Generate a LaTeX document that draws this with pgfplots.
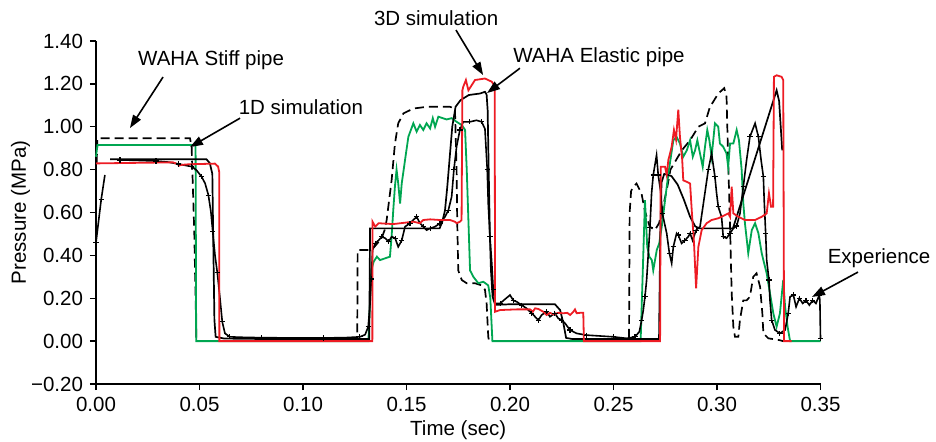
\documentclass[border=0pt]{standalone}
\usepackage{pgfplots}
\pgfplotsset{compat=1.18}
\usepackage{fontspec}
\setmainfont{Liberation Sans}
\usetikzlibrary{arrows.meta}
\definecolor{ggreen}{RGB}{0,166,81}
\definecolor{rred}{RGB}{237,28,36}
\begin{document}
\fontsize{20.5bp}{24bp}\selectfont
\begin{tikzpicture}
\useasboundingbox (-96bp,-58bp) rectangle (840bp,384bp);
\begin{axis}[
  at={(0,0)}, anchor=south west,
  scale only axis, width=724.5bp, height=343bp,
  xmin=0, xmax=0.35, ymin=-0.2, ymax=1.4,
  axis lines*=left,
  axis line style={line width=1.8bp},
  xtick={0,0.05,0.1,0.15,0.2,0.25,0.3,0.35},
  xticklabels={0.00,0.05,0.10,0.15,0.20,0.25,0.30,0.35},
  ytick={-0.2,0,0.2,0.4,0.6,0.8,1.0,1.2,1.4},
  yticklabels={−0.20,0.00,0.20,0.40,0.60,0.80,1.00,1.20,1.40},
  tick align=outside, major tick length=6bp,
  tick style={line width=1.4bp, black},
  tick label style={font=\fontsize{20.5bp}{24bp}\selectfont},
  label style={font=\fontsize{20.5bp}{24bp}\selectfont},
  xlabel={Time (sec)}, ylabel={Pressure (MPa)},
  xlabel style={at={(axis description cs:0.5,-0.134)}, anchor=center},
  ylabel style={at={(axis description cs:-0.104,0.5)}, anchor=center, rotate=0},
  clip=false,
  unbounded coords=jump,
]
% WAHA Stiff pipe (dashed)
\addplot[black, line width=1.7bp, dash pattern=on 9bp off 5bp] coordinates {
(0.0003,0.83)(0.0007,0.946)(0.0454,0.946)(0.0462,0.907)(0.0475,0.5)(0.0485,0.0)(0.1262,0.0)
(0.1264,0.425)(0.1330,0.425)(0.1345,0.44)(0.1380,0.48)(0.1395,0.52)(0.1404,0.564)(0.1428,0.75)
(0.1444,0.92)(0.1460,1.016)(0.1485,1.062)(0.1533,1.085)(0.1598,1.093)(0.1710,1.093)(0.1734,1.085)
(0.1742,0.8)(0.1745,0.56)(0.1750,0.33)(0.1767,0.285)(0.1791,0.27)(0.1831,0.27)(0.1863,0.26)
(0.1879,0.24)(0.1887,0.176)(0.1895,0.02)(0.1899,0.0)(0.2575,0.0)(0.2578,0.6)(0.2585,0.70)
(0.2595,0.72)(0.2611,0.735)(0.2635,0.69)(0.2651,0.61)(0.2675,0.534)(0.2700,0.518)(0.2720,0.55)
(0.2740,0.63)(0.2760,0.72)(0.2775,0.8)(0.2830,0.89)(0.2870,0.937)(0.2910,1.0)(0.2942,1.016)
(0.2966,1.093)(0.2982,1.117)(0.3006,1.155)(0.3035,1.18)(0.3046,1.14)(0.3054,0.845)(0.3063,0.534)
(0.3071,0.223)(0.3079,0.067)(0.3087,0.02)(0.3103,0.02)(0.3111,0.1)(0.3127,0.19)(0.3143,0.19)
(0.3159,0.207)(0.3175,0.3)(0.3191,0.316)(0.3208,0.254)(0.3219,0.13)(0.3224,0.036)(0.3248,0.013)
(0.3300,0.005)(0.3319,0.0)
};
% 1D simulation (green)
\addplot[ggreen, line width=1.8bp] coordinates {
(0,0.86)(0.0007,0.915)(0.0481,0.915)(0.0484,0.0)(0.1316,0.0)(0.1330,0.33)(0.1341,0.37)
(0.1357,0.394)(0.1372,0.378)(0.1396,0.386)(0.1420,0.394)(0.1428,0.487)(0.1436,0.61)(0.1444,0.72)
(0.1452,0.80)(0.1460,0.736)(0.1469,0.642)(0.1477,0.736)(0.1493,0.845)(0.1509,0.953)(0.1533,1.016)
(0.1549,0.977)(0.1565,1.008)(0.1581,0.985)(0.1597,1.016)(0.1614,0.992)(0.1627,1.04)(0.1638,1.0)
(0.1654,1.047)(0.1694,1.034)(0.1718,1.04)(0.1742,1.023)(0.1767,1.008)(0.1783,0.985)(0.1791,0.8)
(0.1799,0.565)(0.1807,0.33)(0.1823,0.3)(0.1847,0.27)(0.1871,0.277)(0.1895,0.26)(0.1905,0.2)
(0.1915,0.0)(0.2631,0.0)(0.2652,0.657)(0.2663,0.44)(0.2673,0.394)(0.2685,0.378)(0.2692,0.33)
(0.2709,0.425)(0.2721,0.456)(0.2733,0.534)(0.2749,0.657)(0.2765,0.78)(0.2789,0.937)(0.2805,0.953)
(0.2821,0.922)(0.2837,0.86)(0.2854,0.89)(0.2870,0.937)(0.2883,0.86)(0.2894,0.89)(0.2905,0.937)
(0.2918,0.875)(0.2931,0.813)(0.2942,0.907)(0.2953,0.985)(0.2963,0.937)(0.2974,0.86)(0.2990,1.016)
(0.3006,1.0)(0.3014,0.922)(0.3030,0.907)(0.3046,0.875)(0.3054,0.813)(0.3063,0.922)(0.3079,0.922)
(0.3095,0.985)(0.3106,0.937)(0.3119,0.8)(0.3127,0.643)(0.3135,0.55)(0.3151,0.41)(0.3168,0.518)
(0.3184,0.55)(0.3200,0.503)(0.3216,0.41)(0.3224,0.378)(0.3240,0.316)(0.3256,0.223)(0.3272,0.13)
(0.3288,0.067)(0.3304,0.13)(0.3320,0.285)(0.3329,0.16)(0.3341,0.067)(0.3353,0.0)(0.3500,0.0)
};
% WAHA Elastic pipe (black solid)
\addplot[black, line width=1.7bp] coordinates {
(0.0068,0.848)(0.0300,0.848)(0.0534,0.848)(0.0550,0.83)(0.0562,0.78)(0.0566,0.5)(0.0572,0.1)
(0.0578,0.02)(0.0620,0.012)(0.0800,0.01)(0.1320,0.01)(0.1324,0.526)(0.1660,0.526)(0.1673,0.557)
(0.1686,0.61)(0.1697,0.72)(0.1709,0.86)(0.1721,1.0)(0.1737,1.093)(0.1761,1.124)(0.1801,1.148)
(0.1855,1.155)(0.1879,1.163)(0.1887,1.15)(0.1892,1.078)(0.1897,0.8)(0.1903,0.487)(0.1908,0.33)
(0.1916,0.207)(0.1928,0.17)(0.1952,0.17)(0.2000,0.172)(0.2217,0.172)(0.2242,0.145)(0.2258,0.083)
(0.2271,0.015)(0.2300,0.01)(0.2720,0.01)(0.2726,0.5)(0.2732,0.74)(0.2745,0.78)(0.2780,0.77)
(0.2810,0.73)(0.2840,0.66)(0.2870,0.58)(0.2895,0.535)(0.2915,0.526)(0.3077,0.526)(0.3288,1.17)
(0.3300,1.12)(0.3315,0.89)
};
% Experience (black with marks)
\addplot[black, line width=1.6bp, mark=+, mark size=2.6bp, mark repeat=2,
  mark options={solid, line width=1.1bp}] coordinates {
(0,0.46)(0.0015,0.58)(0.0025,0.66)(0.0043,0.775)(0.008,nan)
(0.0116,0.845)(0.020,0.843)(0.029,0.84)(0.035,0.835)(0.040,0.826)(0.043,0.82)(0.0463,0.814)
(0.0485,0.798)(0.051,0.767)(0.0527,0.736)(0.0543,0.681)(0.0555,0.604)(0.0564,0.51)(0.0575,0.40)
(0.0586,0.32)(0.0599,0.20)(0.061,0.09)(0.0623,0.036)(0.0647,0.02)(0.070,0.018)(0.080,0.016)
(0.095,0.015)(0.110,0.015)(0.120,0.016)(0.1275,0.02)(0.1300,0.03)(0.1315,0.067)(0.1324,0.176)
(0.1330,0.29)(0.1336,0.425)(0.1349,0.456)(0.1365,0.47)(0.1381,0.487)(0.1397,0.48)(0.1413,0.464)
(0.1429,0.487)(0.1445,0.48)(0.1460,0.44)(0.1477,0.47)(0.1493,0.534)(0.1517,0.55)(0.1533,0.565)
(0.1549,0.58)(0.1565,0.55)(0.1581,0.534)(0.1597,0.518)(0.1614,0.526)(0.1638,0.534)(0.1662,0.55)
(0.1686,0.58)(0.1702,0.61)(0.1718,0.673)(0.1729,0.80)(0.1742,0.907)(0.1758,0.985)(0.1774,1.023)
(0.1806,1.023)(0.1838,1.03)(0.1863,1.023)(0.1879,0.99)(0.1890,0.8)(0.1895,0.64)(0.1903,0.487)
(0.1912,0.363)(0.1919,0.24)(0.1928,0.176)(0.1952,0.176)(0.2000,0.215)(0.2016,0.19)(0.2032,0.184)
(0.2056,0.168)(0.2080,0.153)(0.2105,0.13)(0.2121,0.114)(0.2137,0.098)(0.2153,0.122)(0.2177,0.137)
(0.2193,0.114)(0.2217,0.13)(0.2233,0.106)(0.2250,0.098)(0.2266,0.083)(0.2290,0.052)(0.2322,0.036)
(0.2370,0.028)(0.2435,0.024)(0.2499,0.02)(0.2564,0.013)(0.2604,0.02)(0.2625,0.044)(0.2636,0.098)
(0.2644,0.145)(0.2652,0.207)(0.2660,0.285)(0.2676,0.53)(0.2684,0.69)(0.2692,0.775)(0.2708,0.868)
(0.2716,0.775)(0.2728,0.697)(0.2736,0.596)(0.2757,0.503)(0.2770,0.41)(0.2781,0.363)(0.2789,0.44)
(0.2805,0.503)(0.2813,0.495)(0.2829,0.456)(0.2845,0.47)(0.2861,0.487)(0.2870,0.503)(0.2882,0.47)
(0.2899,0.518)(0.2918,0.534)(0.2958,0.8)(0.2974,0.875)(0.2990,0.767)(0.2998,0.69)(0.3006,0.627)
(0.3022,0.58)(0.3030,0.487)(0.3046,0.48)(0.3063,0.503)(0.3079,0.526)(0.3095,0.537)(0.3111,0.596)
(0.3127,0.72)(0.3143,0.845)(0.3159,0.953)(0.3184,1.016)(0.3200,0.953)(0.3213,0.845)(0.3224,0.767)
(0.3228,0.658)(0.3235,0.503)(0.3240,0.378)(0.3251,0.285)(0.3256,0.19)(0.3264,0.098)(0.3280,0.052)
(0.3304,0.036)(0.3329,0.052)(0.3344,0.13)(0.3353,0.207)(0.3369,0.215)(0.3382,0.16)(0.3398,0.2)
(0.3414,0.176)(0.3430,0.19)(0.3446,0.168)(0.3462,0.19)(0.3478,0.176)(0.3494,0.215)(0.3497,0.19)
(0.3500,0.013)
};
% 3D simulation (red)
\addplot[rred, line width=1.8bp] coordinates {
(0,0.829)(0.0372,0.834)(0.0396,0.825)(0.0400,0.818)(0.0410,0.822)(0.0450,0.825)(0.0575,0.828)
(0.0590,0.814)(0.0595,0.79)(0.0596,0.0)(0.1335,0.0)(0.1336,0.557)(0.1349,0.534)(0.1365,0.55)
(0.1400,0.548)(0.1436,0.546)(0.1533,0.557)(0.1565,0.55)(0.1581,0.565)(0.1614,0.568)(0.1662,0.565)
(0.1710,0.565)(0.1734,0.557)(0.1742,0.55)(0.1758,0.557)(0.1766,0.565)(0.1770,1.17)(0.1774,1.186)
(0.1787,1.218)(0.1799,1.17)(0.1815,1.194)(0.1831,1.218)(0.1879,1.225)(0.1912,1.21)(0.1919,1.2)
(0.1926,1.19)(0.1928,0.137)(0.1952,0.145)(0.2032,0.148)(0.2097,0.148)(0.2110,0.137)(0.2121,0.153)
(0.2137,0.15)(0.2161,0.137)(0.2177,0.122)(0.2193,0.132)(0.2210,0.125)(0.2233,0.132)(0.2258,0.13)
(0.2277,0.132)(0.2290,0.122)(0.2306,0.137)(0.2314,0.148)(0.2322,0.13)(0.2338,0.132)(0.2354,0.132)
(0.2357,0.0)(0.2725,0.0)(0.2728,0.813)(0.2749,0.813)(0.2757,0.775)(0.2765,0.845)(0.2773,0.875)
(0.2781,0.907)(0.2792,0.985)(0.2802,0.94)(0.2813,1.08)(0.2821,0.953)(0.2832,0.845)(0.2837,0.75)
(0.2854,0.743)(0.2870,0.735)(0.2878,0.61)(0.2889,0.456)(0.2899,0.246)(0.2910,0.44)(0.2926,0.518)
(0.2950,0.55)(0.2974,0.565)(0.3006,0.573)(0.3039,0.588)(0.3055,0.596)(0.3063,0.58)(0.3071,0.72)
(0.3079,0.596)(0.3103,0.58)(0.3135,0.565)(0.3184,0.565)(0.3216,0.58)(0.3240,0.596)(0.3251,0.69)
(0.3261,0.627)(0.3271,0.627)(0.3275,1.233)(0.3288,1.24)(0.3312,1.233)(0.3320,1.218)(0.3324,0.0)
(0.3361,0.0)
};
% annotations
\tikzset{ann/.style={-{Triangle[length=13bp,width=9bp]}, line width=1.6bp, black}}
\node at (axis cs:0.1643,1.507) {3D simulation};
\node at (axis cs:0.2430,1.325) {WAHA Elastic pipe};
\node at (axis cs:0.0556,1.311) {WAHA Stiff pipe};
\node at (axis cs:0.0990,1.092) {1D simulation};
\node at (axis cs:0.3783,0.387) {Experience};
\draw[ann] (axis cs:0.1739,1.451) -- (axis cs:0.1870,1.241);
\draw[ann] (axis cs:0.2048,1.273) -- (axis cs:0.1889,1.157);
\draw[ann] (axis cs:0.0324,1.232) -- (axis cs:0.0164,0.994);
\draw[ann] (axis cs:0.0696,1.040) -- (axis cs:0.0454,0.905);
\draw[ann] (axis cs:0.3681,0.322) -- (axis cs:0.3459,0.206);
\end{axis}
\end{tikzpicture}
\end{document}
